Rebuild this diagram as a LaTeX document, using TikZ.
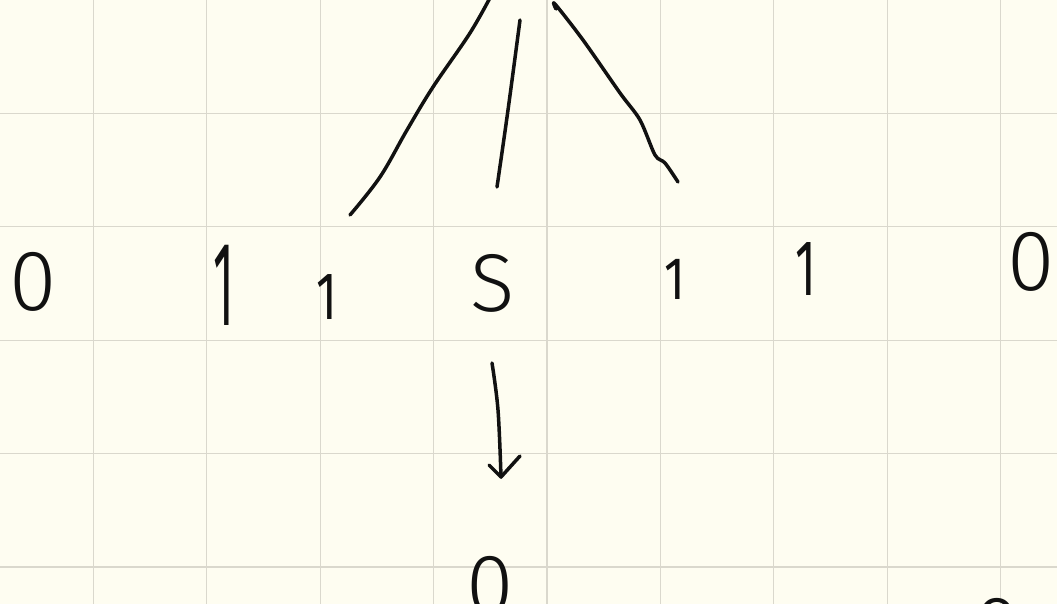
\documentclass[tikz,border=0pt]{standalone}
\usepackage{fontspec}
\setmainfont{Fira Sans Light}
\newfontfamily\onefamily{Fira Sans}
\usetikzlibrary{arrows.meta}
\definecolor{paper}{HTML}{FEFDF1}
\definecolor{gridgray}{HTML}{DAD8CD}
\definecolor{ink}{HTML}{111111}

% a tall narrow hand-written one
\newcommand{\handone}[1]{\scalebox{0.8}[#1]{1}}

\begin{document}
\begin{tikzpicture}[x=1pt, y=-1pt,
    gridline/.style={gridgray, line width=1.3pt},
    pen/.style={ink, line width=3.5pt, line cap=round, line join=round},
    glyph/.style={inner sep=0pt, anchor=base, text=ink},
    bigfont/.style={glyph, font=\fontsize{86}{88}\selectfont},
    onefont/.style={glyph, font=\onefamily\fontsize{60}{60}\selectfont},
  ]

  % ── Paper and grid ──
  \useasboundingbox (0,0) rectangle (1057,604);
  \fill[paper] (0,0) rectangle (1057,604);
  \begin{scope}
  \clip (0,0) rectangle (1057,604);
  \foreach \i in {1,...,9}
    \draw[gridline] ({-20+113.4*\i},0) -- ++(0,604);
  \foreach \j in {1,...,5}
    \draw[gridline] (0,{113.4*\j}) -- ++(1057,0);

  % ── Row of digits ──
  \node[bigfont] (zleft) at (33,310) {0};
  \node[onefont] (onea) at (224,325) {\handone{2.0}};
  \node[onefont] (oneb) at (327,319) {\handone{1.12}};
  \node[bigfont, font=\fontsize{82}{84}\selectfont] (s) at (493,311) {S};
  \node[onefont] (onec) at (675,299) {\handone{1.0}};
  \node[onefont] (oned) at (806,295) {\handone{1.32}};
  \node[bigfont] (zright) at (1031,290) {0};

  % bottom digits, cut by the page edge
  \node[bigfont] (zbottom) at (490,614) {0};
  \node[bigfont] (zcorner) at (997,656) {0};

  % ── Strokes above S ──
  \draw[pen] plot[smooth, tension=0.6] coordinates {(350,215) (380,177) (407,130)
    (433,87) (470,33) (492,-6)};
  \draw[pen] plot[smooth, tension=0.6] coordinates {(520,20) (508,110) (497,187)};
  \draw[pen] plot[smooth, tension=0.5] coordinates {(556,9) (555,4) (583,40) (620,93)
    (640,120) (655,155) (665,163) (678,182)};

  % ── Arrow from S down to 0 ──
  \coordinate (arrfrom) at (492,363);
  \coordinate (arrmid) at (498,410);
  \coordinate (arrtip) at (501,477);
  \draw[pen] plot[smooth, tension=0.6] coordinates {(arrfrom) (arrmid) (arrtip)};
  \draw[pen] (489,465) -- (arrtip) -- (520,456);
  \end{scope}

\end{tikzpicture}
\end{document}
